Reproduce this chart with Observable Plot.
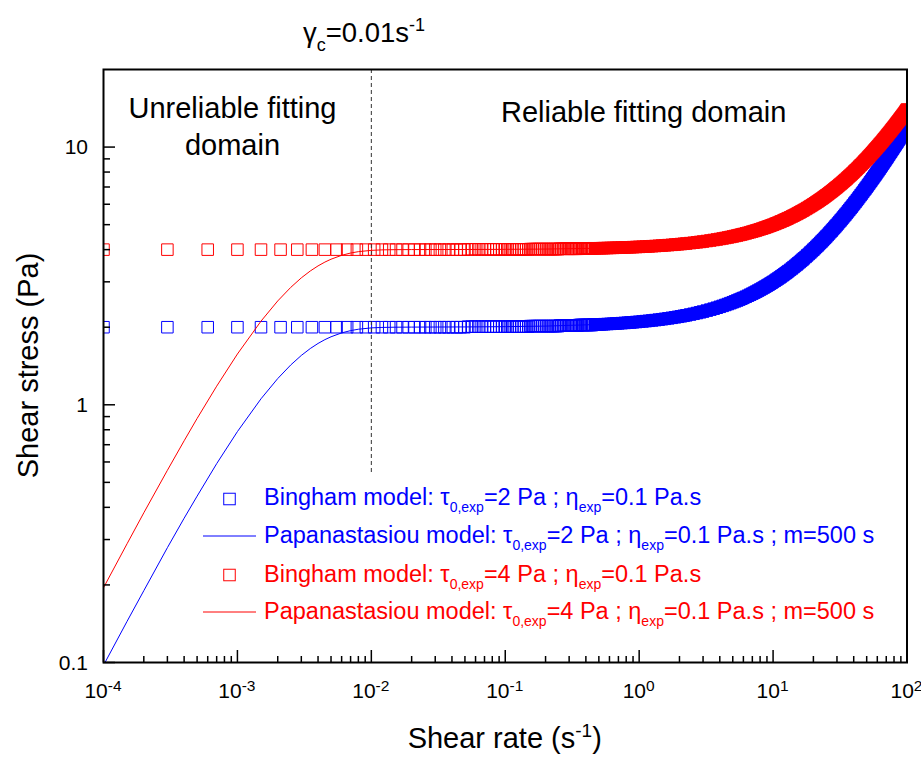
<!DOCTYPE html>
<html><head><meta charset="utf-8">
<script src="https://cdn.jsdelivr.net/npm/d3@7"></script>
<script src="https://cdn.jsdelivr.net/npm/@observablehq/plot@0.6"></script>
<style>body{margin:0;background:#fff;} svg{display:block;} text{white-space:pre;}</style>
</head><body><div id="chart"></div>
<script>
// ---------- DATA ----------
// Bingham "experimental" points, open-marker region (shear rate, s^-1)
const rateOpen = [
0.0001,0.0003,0.0006,0.001,0.0015,0.0021,0.0028,0.0036,0.0045,0.0055,
0.0066,0.0078,0.0091,0.0105,0.012,0.0136,0.0153,0.0171,0.019,0.021,
0.0231,0.0253,0.0276,0.03,0.0325,0.0351,0.0378,0.0406,0.0435,0.0465,
0.0496,0.0528,0.0561,0.0595,0.063,0.0666,0.0703,0.0741,0.078,0.082,
0.0861,0.0903,0.0946,0.099,0.1035,0.1081,0.1128,0.1176,0.1225,0.1275,
0.1326,0.1378,0.1431,0.1485,0.154,0.1596,0.1653,0.1711,0.177,0.183,
0.1891,0.1953,0.2016,0.208,0.2145,0.2211,0.2278,0.2346,0.2415,0.2485,
0.2556,0.2628,0.2701,0.2775,0.285,0.2926,0.3003,0.3081,0.316,0.324,
0.3321,0.3403,0.3486,0.357,0.3655,0.3741,0.3828,0.3916,0.4005,0.4095,
0.4186,0.4278,0.4371,0.4465,0.456];
const stressOpenBlue = [
2,2,2,2,2,2,2,2,2,2,
2,2,2,2,2,2,2,2,2,2,
2,2,2,2,2,2,2,2,2,2,
2,2.01,2.01,2.01,2.01,2.01,2.01,2.01,2.01,2.01,
2.01,2.01,2.01,2.01,2.01,2.01,2.01,2.01,2.01,2.01,
2.01,2.01,2.01,2.01,2.02,2.02,2.02,2.02,2.02,2.02,
2.02,2.02,2.02,2.02,2.02,2.02,2.02,2.02,2.02,2.02,
2.03,2.03,2.03,2.03,2.03,2.03,2.03,2.03,2.03,2.03,
2.03,2.03,2.03,2.04,2.04,2.04,2.04,2.04,2.04,2.04,
2.04,2.04,2.04,2.04,2.05];
const stressOpenRed = [
4,4,4,4,4,4,4,4,4,4,
4,4,4,4,4,4,4,4,4,4,
4,4,4,4,4,4,4,4,4,4,
4,4.01,4.01,4.01,4.01,4.01,4.01,4.01,4.01,4.01,
4.01,4.01,4.01,4.01,4.01,4.01,4.01,4.01,4.01,4.01,
4.01,4.01,4.01,4.01,4.02,4.02,4.02,4.02,4.02,4.02,
4.02,4.02,4.02,4.02,4.02,4.02,4.02,4.02,4.02,4.02,
4.03,4.03,4.03,4.03,4.03,4.03,4.03,4.03,4.03,4.03,
4.03,4.03,4.03,4.04,4.04,4.04,4.04,4.04,4.04,4.04,
4.04,4.04,4.04,4.04,4.05];

// Bingham points, dense region (markers merge into a solid band)
const rateDense = [
0.47,0.49,0.51,0.53,0.55,0.58,0.61,0.64,0.67,0.7,0.74,0.78,0.82,0.86,0.9,0.95,1,
1.06,1.12,1.18,1.25,1.32,1.4,1.48,1.56,1.65,1.75,1.85,1.95,
2.05,2.15,2.25,2.4,2.55,2.7,2.85,3,3.2,3.4,3.6,3.8,4,
4.2,4.4,4.6,4.8,5,5.2,5.4,5.6,5.8,6,6.25,6.5,6.75,7,7.25,7.5,7.75,8,8.25,8.5,8.75,9,9.25,9.5,9.75,10,
10.3,10.6,10.9,11.2,11.5,11.8,12.1,12.4,12.7,13,13.4,13.8,14.2,14.6,15,15.4,15.8,16.2,16.6,17,17.5,18,18.5,19,19.5,20,
20.5,21,21.5,22,22.5,23,23.5,24,24.5,25,25.6,26.2,26.8,27.4,28,28.6,29.2,29.8,30.5,31.2,31.9,32.6,33.3,34,34.7,35.5,36.3,37.1,37.9,38.7,39.5,40.4,41.3,42.2,43.1,44,45,46,47,48,49,50,
51,52,53,54,55,56,57,58,59,60,61.2,62.4,63.6,64.8,66,67.2,68.4,69.6,70.8,72,73.3,74.6,75.9,77.2,78.5,79.8,81.1,82.4,83.7,85,86.4,87.8,89.2,90.6,92,93.4,94.8,96.2,97.6,99,100];
const stressDenseBlue = [
2.047,2.049,2.051,2.053,2.055,2.058,2.061,2.064,2.067,2.07,2.074,2.078,2.082,2.086,2.09,2.095,2.1,
2.106,2.112,2.118,2.125,2.132,2.14,2.148,2.156,2.165,2.175,2.185,2.195,
2.205,2.215,2.225,2.24,2.255,2.27,2.285,2.3,2.32,2.34,2.36,2.38,2.4,
2.42,2.44,2.46,2.48,2.5,2.52,2.54,2.56,2.58,2.6,2.625,2.65,2.675,2.7,2.725,2.75,2.775,2.8,2.825,2.85,2.875,2.9,2.925,2.95,2.975,3,
3.03,3.06,3.09,3.12,3.15,3.18,3.21,3.24,3.27,3.3,3.34,3.38,3.42,3.46,3.5,3.54,3.58,3.62,3.66,3.7,3.75,3.8,3.85,3.9,3.95,4,
4.05,4.1,4.15,4.2,4.25,4.3,4.35,4.4,4.45,4.5,4.56,4.62,4.68,4.74,4.8,4.86,4.92,4.98,5.05,5.12,5.19,5.26,5.33,5.4,5.47,5.55,5.63,5.71,5.79,5.87,5.95,6.04,6.13,6.22,6.31,6.4,6.5,6.6,6.7,6.8,6.9,7,
7.1,7.2,7.3,7.4,7.5,7.6,7.7,7.8,7.9,8,8.12,8.24,8.36,8.48,8.6,8.72,8.84,8.96,9.08,9.2,9.33,9.46,9.59,9.72,9.85,9.98,10.11,10.24,10.37,10.5,10.64,10.78,10.92,11.06,11.2,11.34,11.48,11.62,11.76,11.9,12];
const stressDenseRed = [
4.047,4.049,4.051,4.053,4.055,4.058,4.061,4.064,4.067,4.07,4.074,4.078,4.082,4.086,4.09,4.095,4.1,
4.106,4.112,4.118,4.125,4.132,4.14,4.148,4.156,4.165,4.175,4.185,4.195,
4.205,4.215,4.225,4.24,4.255,4.27,4.285,4.3,4.32,4.34,4.36,4.38,4.4,
4.42,4.44,4.46,4.48,4.5,4.52,4.54,4.56,4.58,4.6,4.625,4.65,4.675,4.7,4.725,4.75,4.775,4.8,4.825,4.85,4.875,4.9,4.925,4.95,4.975,5,
5.03,5.06,5.09,5.12,5.15,5.18,5.21,5.24,5.27,5.3,5.34,5.38,5.42,5.46,5.5,5.54,5.58,5.62,5.66,5.7,5.75,5.8,5.85,5.9,5.95,6,
6.05,6.1,6.15,6.2,6.25,6.3,6.35,6.4,6.45,6.5,6.56,6.62,6.68,6.74,6.8,6.86,6.92,6.98,7.05,7.12,7.19,7.26,7.33,7.4,7.47,7.55,7.63,7.71,7.79,7.87,7.95,8.04,8.13,8.22,8.31,8.4,8.5,8.6,8.7,8.8,8.9,9,
9.1,9.2,9.3,9.4,9.5,9.6,9.7,9.8,9.9,10,10.12,10.24,10.36,10.48,10.6,10.72,10.84,10.96,11.08,11.2,11.33,11.46,11.59,11.72,11.85,11.98,12.11,12.24,12.37,12.5,12.64,12.78,12.92,13.06,13.2,13.34,13.48,13.62,13.76,13.9,14];

// Papanastasiou model curves
const ratePapa = [0.0001,0.00015,0.0002,0.0003,0.0004,0.0005,0.0007,0.001,0.0015,0.002,0.0025,0.003,0.0035,0.004,0.0045,0.005,0.006,0.007,0.008,0.01,0.012,0.015,0.02,0.05,0.1,0.2,0.5,1,2,5,10,20,50,100];
const stressPapaBlue = [0.0975,0.1445,0.19,0.279,0.363,0.442,0.591,0.787,1.055,1.264,1.427,1.554,1.653,1.73,1.79,1.836,1.901,1.94,1.964,1.988,1.996,2,2.002,2.005,2.01,2.02,2.05,2.1,2.2,2.5,3,4,7,12];
const stressPapaRed = [0.195,0.289,0.381,0.557,0.725,0.885,1.181,1.574,2.111,2.529,2.854,3.108,3.305,3.459,3.579,3.672,3.802,3.88,3.928,3.974,3.991,3.999,4.002,4.005,4.01,4.02,4.05,4.1,4.2,4.5,5,6,9,14];

const criticalRate = 0.01;         // gamma_c
const dashedLineBottomStress = 0.54;

// axes
const xMajor = [0.0001,0.001,0.01,0.1,1,10,100];
const xTickExponents = ["-4","-3","-2","-1","0","1","2"];
const yMajor = [0.1,1,10];
const yTickLabels = ["0.1","1","10"];
const minorMultipliers = [2,3,4,5,6,7,8,9];

const BLUE = "#0000ff", RED = "#ff0000";
const FONT = "'Liberation Sans', Arial, Helvetica, sans-serif";

// ---------- TABLES ----------
const openPts = rateOpen.map((r,i)=>({rate:r, blue:stressOpenBlue[i], red:stressOpenRed[i]}));
const densePts = rateDense.map((r,i)=>({rate:r, blue:stressDenseBlue[i], red:stressDenseRed[i]}));
const papa = ratePapa.map((r,i)=>({rate:r, blue:stressPapaBlue[i], red:stressPapaRed[i]}));
const xMinor = xMajor.slice(0,-1).flatMap(d=>minorMultipliers.map(m=>d*m));
const yMinor = [0.1,1].flatMap(d=>minorMultipliers.map(m=>d*m));

// ---------- PLOT ----------
const W=921, H=758, mL=103, mR=14.5, mT=69, mB=96;
const innerW = W-mL-mR, innerH = H-mT-mB;
const R = 6.5;

const chart = Plot.plot({
  width: W, height: H,
  marginLeft: mL, marginRight: mR, marginTop: mT, marginBottom: mB,
  x: {type:"log", domain:[1e-4,100], axis:null},
  y: {type:"log", domain:[0.1,20], axis:null},
  marks: [
    Plot.dot(openPts, {x:"rate", y:"blue", symbol:"square", r:R, stroke:BLUE, fill:"none", strokeWidth:1, clip:true}),
    Plot.dot(densePts, {x:"rate", y:"blue", symbol:"square", r:R, stroke:BLUE, fill:BLUE, strokeWidth:1, clip:true}),
    Plot.line(papa, {x:"rate", y:"blue", stroke:BLUE, strokeWidth:1, clip:true}),
    Plot.dot(openPts, {x:"rate", y:"red", symbol:"square", r:R, stroke:RED, fill:"none", strokeWidth:1, clip:true}),
    Plot.dot(densePts, {x:"rate", y:"red", symbol:"square", r:R, stroke:RED, fill:RED, strokeWidth:1, clip:true}),
    Plot.line(papa, {x:"rate", y:"red", stroke:RED, strokeWidth:1, clip:true}),
    Plot.ruleX([criticalRate], {y1:20, y2:dashedLineBottomStress, stroke:"#333", strokeWidth:1, strokeDasharray:"4,3"}),
    Plot.tickX(xMinor, {insetTop: innerH-6, stroke:"black", strokeWidth:1.5}),
    Plot.tickX(xMajor, {insetTop: innerH-12, stroke:"black", strokeWidth:1.5}),
    Plot.tickY(yMinor, {insetRight: innerW-7, stroke:"black", strokeWidth:1.5}),
    Plot.tickY(yMajor, {insetRight: innerW-12, stroke:"black", strokeWidth:1.5}),
    Plot.frame({stroke:"black", strokeWidth:2})
  ]
});
document.getElementById("chart").append(chart);

const sx = chart.scale("x"), sy = chart.scale("y");
const svg = d3.select(chart);

function rich(x, y, parts, {size, subSize, subShift=6, supShift=8, fill="black", anchor="start", transform=null}) {
  const t = svg.append("text").attr("x", x).attr("y", y)
    .attr("font-family", FONT).attr("font-size", size).attr("fill", fill)
    .attr("text-anchor", anchor);
  if (transform) t.attr("transform", transform);
  let shift = 0;
  for (const [s, kind] of parts) {
    const target = kind === "sub" ? subShift : kind === "sup" ? -supShift : 0;
    const ts = t.append("tspan").attr("dy", target - shift).text(s);
    if (kind !== "n") ts.attr("font-size", subSize);
    shift = target;
  }
  return t;
}

// tick labels
xMajor.forEach((v,i)=>{
  rich(sx.apply(v), 698, [["10","n"],[xTickExponents[i],"sup"]], {size:21, subSize:15.5, supShift:7, anchor:"middle"});
});
yMajor.forEach((v,i)=>{
  rich(88, sy.apply(v)+7.5, [[yTickLabels[i],"n"]], {size:21, anchor:"end"});
});

// axis titles
rich((mL + W - mR)/2, 748, [["Shear rate (s","n"],["-1","sup"],[")","n"]], {size:29, subSize:19, supShift:11, anchor:"middle"});
rich(0, 0, [["Shear stress (Pa)","n"]], {size:29, anchor:"middle", transform:`translate(37.5,${(mT + H - mB)/2}) rotate(-90)`});

// gamma_c annotation
rich(303, 42, [["γ","n"],["c","sub"],["=0.01s","n"],["-1","sup"]], {size:27.5, subSize:18, subShift:9, supShift:11});

// domain annotations
rich(232.5, 118, [["Unreliable fitting","n"]], {size:29, anchor:"middle"});
rich(232.5, 155, [["domain","n"]], {size:29, anchor:"middle"});
rich(501, 122, [["Reliable fitting domain","n"]], {size:29});

// legend
const legendRows = [
  {kind:"square", color:BLUE, y:499, base:505, parts:[["Bingham model: ","n"],["τ","n"],["0,exp","sub"],["=2 Pa ; ","n"],["η","n"],["exp","sub"],["=0.1 Pa.s","n"]]},
  {kind:"line", color:BLUE, y:536, base:543, parts:[["Papanastasiou model: ","n"],["τ","n"],["0,exp","sub"],["=2 Pa ; ","n"],["η","n"],["exp","sub"],["=0.1 Pa.s ; m=500 s","n"]]},
  {kind:"square", color:RED, y:575, base:581.5, parts:[["Bingham model: ","n"],["τ","n"],["0,exp","sub"],["=4 Pa ; ","n"],["η","n"],["exp","sub"],["=0.1 Pa.s","n"]]},
  {kind:"line", color:RED, y:612, base:619, parts:[["Papanastasiou model: ","n"],["τ","n"],["0,exp","sub"],["=4 Pa ; ","n"],["η","n"],["exp","sub"],["=0.1 Pa.s ; m=500 s","n"]]}
];
const side = R*Math.sqrt(Math.PI);
legendRows.forEach(r=>{
  if (r.kind === "square") {
    svg.append("rect").attr("x", 229.5-side/2).attr("y", r.y-side/2).attr("width", side).attr("height", side)
      .attr("fill","none").attr("stroke", r.color).attr("stroke-width",1);
  } else {
    svg.append("line").attr("x1",203).attr("x2",256).attr("y1",r.y).attr("y2",r.y)
      .attr("stroke", r.color).attr("stroke-width",1);
  }
  rich(264, r.base, r.parts, {size:23.5, subSize:14, subShift:7, fill:r.color});
});
</script></body></html>
